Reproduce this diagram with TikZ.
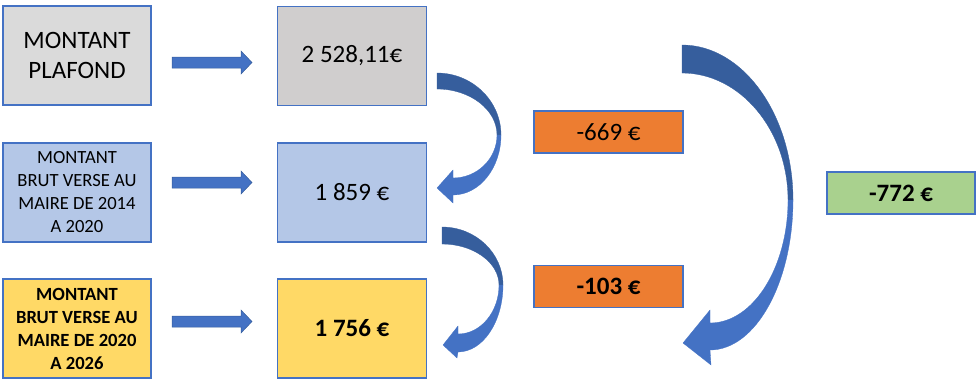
\documentclass[tikz,border=0pt]{standalone}
\usepackage{fontspec}
\setmainfont{Carlito}
\definecolor{bord}{HTML}{4472C4}
\definecolor{abl}{HTML}{4472C4}
\definecolor{adk}{HTML}{365E9D}
\definecolor{gA}{HTML}{DADADA}
\definecolor{gB}{HTML}{D0CECE}
\definecolor{lb}{HTML}{B4C7E7}
\definecolor{yl}{HTML}{FFD966}
\definecolor{org}{HTML}{ED7D31}
\definecolor{grn}{HTML}{A9D18E}
\begin{document}
\begin{tikzpicture}[x=1pt,y=-1pt,
  box/.style={draw=bord, line width=1.2pt, minimum width=148pt, minimum height=99pt, align=center, inner sep=0pt},
  small/.style={draw=bord, line width=1.2pt, minimum width=148pt, minimum height=42pt, align=center, inner sep=0pt},
  big/.style={font=\fontsize{25}{30}\selectfont},
  bigb/.style={font=\bfseries\fontsize{25}{30}\selectfont},
  mid/.style={font=\fontsize{18.6}{23}\selectfont},
  midb/.style={font=\bfseries\fontsize{18.6}{23}\selectfont},
  blk/.style={fill=abl, draw=adk, line width=0.5pt},
  cdk/.style={fill=adk, draw=adk, line width=0.3pt},
  clt/.style={fill=abl, draw=abl, line width=0.3pt}]
\useasboundingbox (0,0) rectangle (976,380);
% boxes
\node[box, fill=gA, big] (l1) at (77,55.5) {MONTANT\\PLAFOND};
\node[box, fill=gB, big, minimum width=149pt] (v1) at (352,56) {2 528,11€};
\node[box, fill=lb, mid] (l2) at (77,192.5) {MONTANT\\BRUT VERSE AU\\MAIRE DE 2014\\A 2020};
\node[box, fill=lb, big, minimum width=149pt] (v2) at (352,192.5) {1 859 €};
\node[box, fill=yl, midb] (l3) at (77,328.5) {MONTANT\\BRUT VERSE AU\\MAIRE DE 2020\\A 2026};
\node[box, fill=yl, bigb, minimum width=149pt] (v3) at (352,328.5) {1 756 €};
\node[small, fill=org, big, minimum width=149pt] (d1) at (608.5,132) {-669 €};
\node[small, fill=org, bigb, minimum width=149pt] (d2) at (608.5,286.5) {-103 €};
\node[small, fill=grn, bigb] (tot) at (901,193) {-772 €};
% straight block arrows
\draw[blk] (172,57) -- (241,57) -- (241,51) -- (252,62.5) -- (241,74) -- (241,68) -- (172,68) -- cycle;
\draw[blk] (172,177) -- (241,177) -- (241,171) -- (252,182.5) -- (241,194) -- (241,188) -- (172,188) -- cycle;
\draw[blk] (172,316) -- (241,316) -- (241,310) -- (252,321.5) -- (241,333) -- (241,327) -- (172,327) -- cycle;
% curved arrow 1
\draw[cdk] (437,73) .. controls (472.2,73) and (501,100.9) .. (501,135) -- (497,135) .. controls (497,109.7) and (470,89) .. (437,89) -- cycle;
\draw[clt] (501,135) .. controls (501,168) and (479.4,195) .. (453,195) -- (453,203) -- (437,188) -- (453,170) -- (453,178) .. controls (477.2,178) and (497,158.7) .. (497,135) -- cycle;
% curved arrow 2
\draw[cdk] (442,227) .. controls (475.6,227) and (503,253.1) .. (503,285) -- (499,285) .. controls (499,262.5) and (473.4,244) .. (442,244) -- cycle;
\draw[clt] (503,285) .. controls (503,321.9) and (482.8,352) .. (458,352) -- (457,358) -- (443,345) -- (458,326) -- (458,334) .. controls (480.6,334) and (499,312) .. (499,285) -- cycle;
% big curved arrow
\draw[cdk] (682,45) .. controls (743,45) and (793,114.75) .. (793,200) -- (788,200) .. controls (788,130.15) and (740.3,73) .. (682,73) -- cycle;
\draw[clt] (793,200) .. controls (793,282.5) and (755.65,350) .. (710,350) -- (711,365) -- (683,343) -- (710,310) -- (710,323) .. controls (752.9,323) and (788,267.65) .. (788,200) -- cycle;
\end{tikzpicture}
\end{document}
